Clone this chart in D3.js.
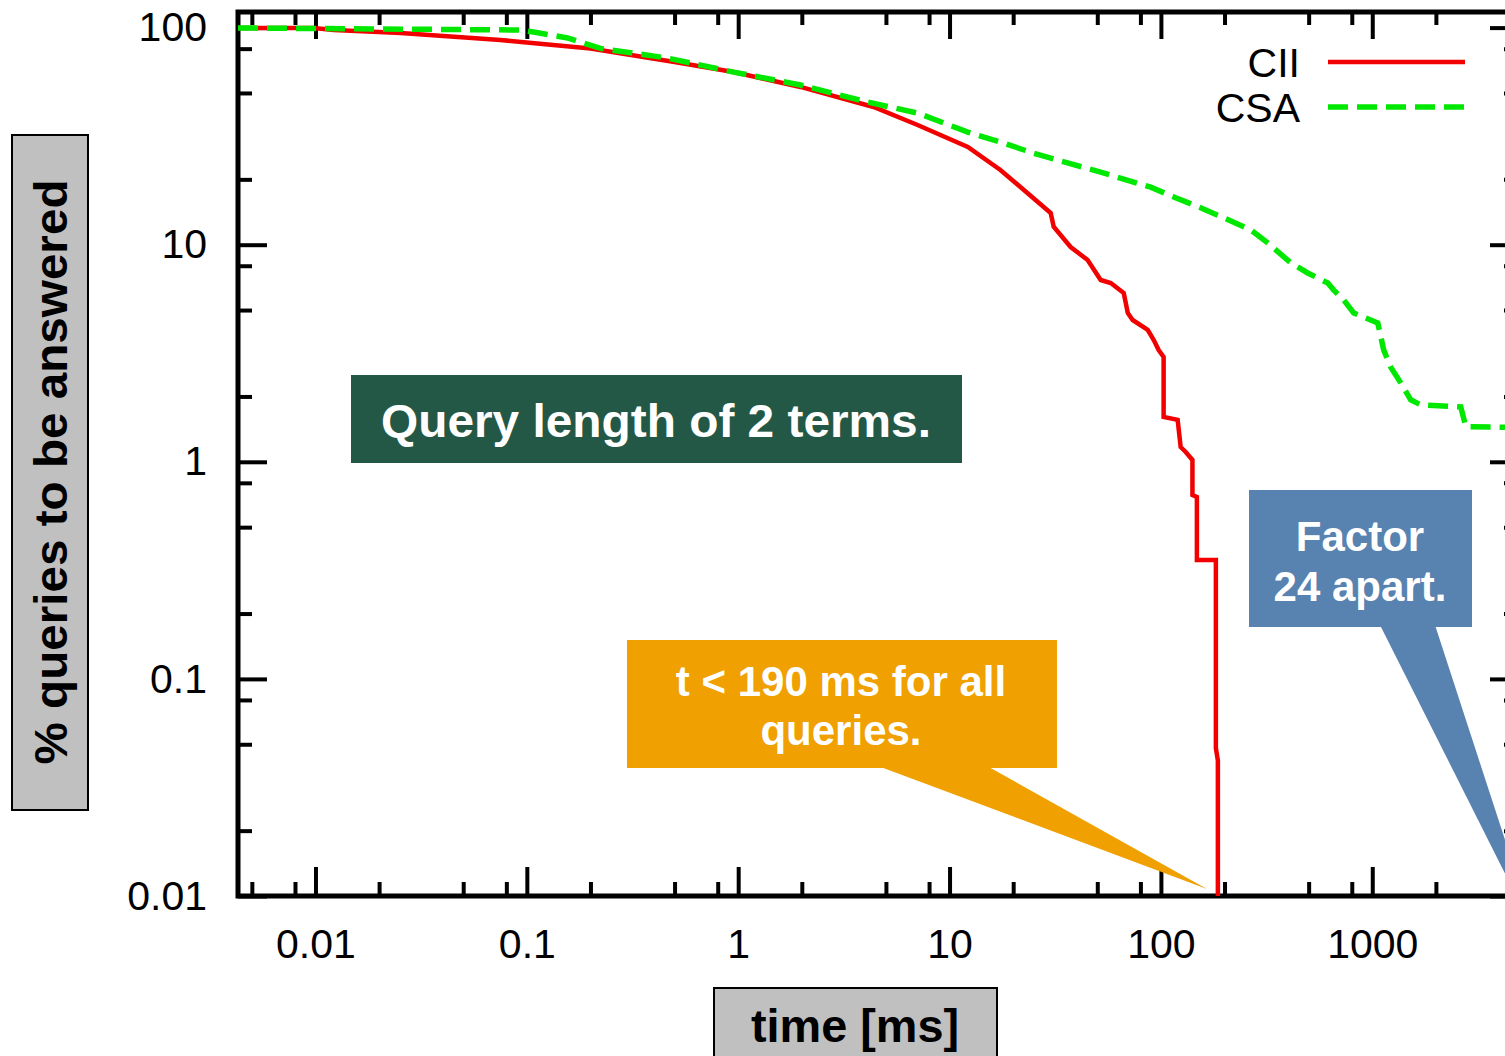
<!DOCTYPE html>
<html>
<head>
<meta charset="utf-8">
<script src="https://cdn.jsdelivr.net/npm/d3@7"></script>
<style>
  body { margin: 0; background: #fff; }
  svg { display: block; font-family: "Liberation Sans", Arial, sans-serif; }
</style>
</head>
<body>
<svg id="chart" width="1505" height="1056"></svg>
<script>
// series (time in ms, % of queries still unanswered)
const ciiTime = [0.0043, 0.0098, 0.0122, 0.0253, 0.075, 0.2, 0.5, 0.95, 1.97, 4.37, 7.06, 12.2, 17.4, 21.7, 30.1, 31.1, 37.4, 45, 51.9, 57.9, 66.7, 69.7, 73.5, 86.6, 92.5, 97.6, 103, 103, 120, 124, 131, 141, 141, 148, 148, 182, 182, 186, 186];
const ciiPct = [99.6, 99.6, 97.5, 94.4, 87.7, 80.2, 69.4, 62.4, 53.3, 43.1, 35.6, 28.2, 22.1, 18.4, 14.0, 12.1, 9.76, 8.5, 6.88, 6.66, 5.99, 4.85, 4.5, 4.05, 3.64, 3.27, 3.04, 1.61, 1.56, 1.17, 1.11, 1.02, 0.703, 0.689, 0.353, 0.353, 0.048, 0.042, 0.01];

const csaTime = [0.0043, 0.0933, 0.1076, 0.156, 0.223, 0.463, 0.951, 1.97, 4.10, 7.06, 12.2, 17.4, 25.0, 36.2, 51.9, 74.3, 89.5, 115, 154, 221, 266, 320, 412, 495, 616, 657, 733, 817, 1062, 1133, 1223, 1364, 1521, 1696, 2623, 2770, 5000];
const csaPct = [99.6, 97.5, 95.4, 89.6, 80.2, 72.4, 62.4, 54.4, 45.4, 40.4, 33.0, 29.7, 26.4, 23.8, 21.6, 19.4, 18.4, 16.6, 14.8, 12.7, 11.7, 10.2, 8.24, 7.41, 6.66, 6.18, 5.56, 4.85, 4.36, 3.27, 2.73, 2.31, 1.93, 1.83, 1.79, 1.45, 1.44];

const seriesNames = ["CII", "CSA"];
const xMajor = [0.01, 0.1, 1, 10, 100, 1000];
const xTickLabels = ["0.01", "0.1", "1", "10", "100", "1000"];
const yMajor = [0.01, 0.1, 1, 10, 100];
const yTickLabels = ["0.01", "0.1", "1", "10", "100"];
const minorSteps = [2, 5, 8];

const svg = d3.select("#chart");

// plot frame (right edge falls just outside the picture)
const L = 238, R = 1520, T = 12, B = 896;
const x = d3.scaleLog().domain([0.0043, 5000]).range([L, R]);
const y = d3.scaleLog().domain([0.01, 118]).range([B, T]);

function minorTicks(scale, majors) {
  const [a, b] = scale.domain();
  const out = [];
  majors.concat([majors[0] / 10, majors[majors.length - 1] * 10]).forEach(m => {
    minorSteps.forEach(s => {
      const v = m * s;
      if (v > a && v < b) out.push(v);
    });
  });
  return out;
}
const xMinor = minorTicks(x, xMajor);
const yMinor = minorTicks(y, yMajor);

// axes: ticks point inward on every side
function styleAxis(g) {
  g.select(".domain").remove();
  g.selectAll(".tick line").attr("stroke", "#000").attr("stroke-width", 4);
  g.selectAll(".tick text").attr("font-size", 41).attr("fill", "#000")
    .attr("font-family", "Liberation Sans, Arial, sans-serif");
}

svg.append("g").attr("transform", `translate(0,${B})`)
  .call(d3.axisBottom(x).tickValues(xMajor).tickSize(-29).tickPadding(33)
    .tickFormat((d, i) => xTickLabels[i]))
  .call(styleAxis);
svg.append("g").attr("transform", `translate(0,${B})`)
  .call(d3.axisBottom(x).tickValues(xMinor).tickSize(-14).tickFormat(""))
  .call(styleAxis);
svg.append("g").attr("transform", `translate(0,${T})`)
  .call(d3.axisTop(x).tickValues(xMajor).tickSize(-27).tickFormat(""))
  .call(styleAxis);
svg.append("g").attr("transform", `translate(0,${T})`)
  .call(d3.axisTop(x).tickValues(xMinor).tickSize(-13).tickFormat(""))
  .call(styleAxis);

svg.append("g").attr("transform", `translate(${L},0)`)
  .call(d3.axisLeft(y).tickValues(yMajor).tickSize(-29).tickPadding(31)
    .tickFormat((d, i) => yTickLabels[i]))
  .call(styleAxis);
svg.append("g").attr("transform", `translate(${L},0)`)
  .call(d3.axisLeft(y).tickValues(yMinor).tickSize(-14).tickFormat(""))
  .call(styleAxis);
svg.append("g").attr("transform", `translate(${R},0)`)
  .call(d3.axisRight(y).tickValues(yMajor).tickSize(-30).tickFormat(""))
  .call(styleAxis);
svg.append("g").attr("transform", `translate(${R},0)`)
  .call(d3.axisRight(y).tickValues(yMinor).tickSize(-16).tickFormat(""))
  .call(styleAxis);

svg.append("rect")
  .attr("x", L).attr("y", T).attr("width", R - L).attr("height", B - T)
  .attr("fill", "none").attr("stroke", "#000").attr("stroke-width", 5);

// curves
svg.append("clipPath").attr("id", "plotClip")
  .append("rect").attr("x", L).attr("y", T).attr("width", R - L).attr("height", B - T);

const line = d3.line().x(d => x(d[0])).y(d => y(d[1]));
const ciiData = d3.zip(ciiTime, ciiPct);
const csaData = d3.zip(csaTime, csaPct);

const plot = svg.append("g").attr("clip-path", "url(#plotClip)");
plot.append("path").datum(ciiData)
  .attr("d", line).attr("fill", "none")
  .attr("stroke", "#f20000").attr("stroke-width", 4.5).attr("stroke-linejoin", "miter");
plot.append("path").datum(csaData)
  .attr("d", line).attr("fill", "none")
  .attr("stroke", "#00e800").attr("stroke-width", 5.5).attr("stroke-dasharray", "20,9");

// legend
const legend = svg.append("g");
seriesNames.forEach((name, i) => {
  const ly = 62 + i * 45;
  legend.append("text").attr("x", 1300).attr("y", ly + 15)
    .attr("text-anchor", "end").attr("font-size", 41).text(name);
  legend.append("line").attr("x1", 1328).attr("x2", 1465).attr("y1", ly).attr("y2", ly)
    .attr("stroke", i === 0 ? "#f20000" : "#00e800")
    .attr("stroke-width", i === 0 ? 4.5 : 5.5)
    .attr("stroke-dasharray", i === 0 ? null : "20,9");
});

// axis title boxes
svg.append("rect").attr("x", 12).attr("y", 135).attr("width", 76).attr("height", 675)
  .attr("fill", "#c0c0c0").attr("stroke", "#000").attr("stroke-width", 2);
svg.append("text").attr("transform", "translate(67,472) rotate(-90)")
  .attr("text-anchor", "middle").attr("font-size", 46).attr("font-weight", "bold")
  .attr("textLength", 585).attr("lengthAdjust", "spacingAndGlyphs")
  .text("% queries to be answered");

svg.append("rect").attr("x", 714).attr("y", 988).attr("width", 283).attr("height", 80)
  .attr("fill", "#c0c0c0").attr("stroke", "#000").attr("stroke-width", 2);
svg.append("text").attr("x", 855).attr("y", 1042)
  .attr("text-anchor", "middle").attr("font-size", 46).attr("font-weight", "bold")
  .attr("textLength", 208).attr("lengthAdjust", "spacingAndGlyphs")
  .text("time [ms]");

// annotation boxes
svg.append("rect").attr("x", 351).attr("y", 375).attr("width", 611).attr("height", 88)
  .attr("fill", "#235846");
svg.append("text").attr("x", 656).attr("y", 437)
  .attr("text-anchor", "middle").attr("font-size", 47).attr("font-weight", "bold").attr("fill", "#fff")
  .attr("textLength", 550).attr("lengthAdjust", "spacingAndGlyphs")
  .text("Query length of 2 terms.");

const orange = "#f0a000";
svg.append("polygon").attr("points", "878,766 987,766 1207,889").attr("fill", orange);
svg.append("rect").attr("x", 627).attr("y", 640).attr("width", 430).attr("height", 128).attr("fill", orange);
svg.append("text").attr("x", 841).attr("y", 696)
  .attr("text-anchor", "middle").attr("font-size", 42).attr("font-weight", "bold").attr("fill", "#fff")
  .text("t < 190 ms for all");
svg.append("text").attr("x", 841).attr("y", 745)
  .attr("text-anchor", "middle").attr("font-size", 42).attr("font-weight", "bold").attr("fill", "#fff")
  .text("queries.");

const blue = "#5882b0";
svg.append("polygon").attr("points", "1380,625 1435,625 1536,935").attr("fill", blue);
svg.append("rect").attr("x", 1249).attr("y", 490).attr("width", 223).attr("height", 137).attr("fill", blue);
svg.append("text").attr("x", 1360).attr("y", 551)
  .attr("text-anchor", "middle").attr("font-size", 42).attr("font-weight", "bold").attr("fill", "#fff")
  .text("Factor");
svg.append("text").attr("x", 1360).attr("y", 601)
  .attr("text-anchor", "middle").attr("font-size", 42).attr("font-weight", "bold").attr("fill", "#fff")
  .text("24 apart.");
</script>
</body>
</html>
